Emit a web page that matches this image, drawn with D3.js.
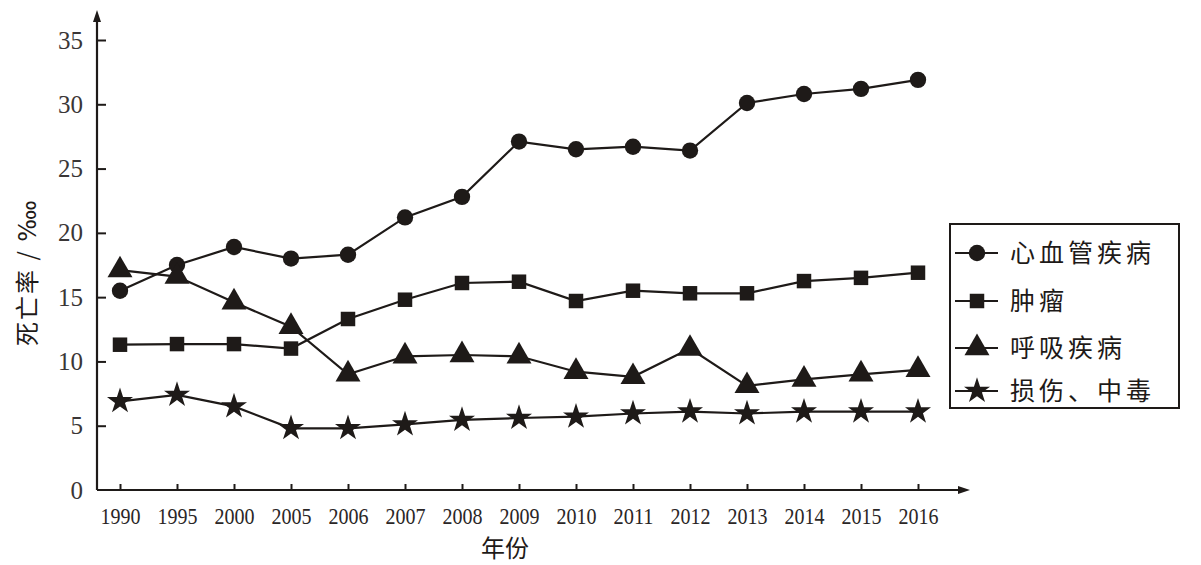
<!DOCTYPE html>
<html><head><meta charset="utf-8">
<script src="https://cdn.jsdelivr.net/npm/d3@7"></script>
<style>
body{margin:0;background:#fff;}
svg{display:block;}
</style></head>
<body>
<svg id="chart" width="1201" height="565"></svg>
<script>
const years = ["1990","1995","2000","2005","2006","2007","2008","2009","2010","2011","2012","2013","2014","2015","2016"];
const cardio = [15.5,17.5,18.9,18.0,18.3,21.2,22.8,27.1,26.5,26.7,26.4,30.1,30.8,31.2,31.9];
const tumor = [11.3,11.35,11.35,11.0,13.3,14.8,16.1,16.2,14.7,15.5,15.3,15.3,16.25,16.5,16.9];
const resp = [17.1,16.6,14.6,12.7,9.0,10.4,10.5,10.4,9.2,8.8,11.0,8.1,8.6,9.0,9.35];
const injury = [6.9,7.4,6.5,4.8,4.8,5.1,5.45,5.6,5.7,5.95,6.1,5.95,6.1,6.1,6.1];
const yTicks = [0,5,10,15,20,25,30,35];
const seriesNames = ["心血管疾病","肿瘤","呼吸疾病","损伤、中毒"];
const seriesSymbols = [d3.symbolCircle, d3.symbolSquare, d3.symbolTriangle, d3.symbolStar];
const seriesSizes = [210, 210, 270, 210];
const seriesData = [cardio, tumor, resp, injury];

const ink = "#1e1a18";
const svg = d3.select("#chart");
const x = d3.scalePoint().domain(years).range([120, 918]);
const y = d3.scaleLinear().domain([0, 35]).range([490, 40]);
const axisX0 = 97;

// Y axis
const yAxis = d3.axisLeft(y).tickValues(yTicks).tickSizeInner(-9).tickSizeOuter(0).tickPadding(14);
const gy = svg.append("g").attr("transform", `translate(${axisX0},0)`).call(yAxis);
gy.select(".domain").remove();
gy.selectAll(".tick line").attr("stroke", ink).attr("stroke-width", 2);
gy.selectAll(".tick text").attr("font-family", "'Liberation Serif', serif").attr("font-size", 25).attr("fill", "#3a3636");
gy.selectAll(".tick").filter(d => d === 0).select("line").remove();

// X axis
const xAxis = d3.axisBottom(x).tickSizeInner(-6).tickSizeOuter(0).tickPadding(17);
const gx = svg.append("g").attr("transform", `translate(0,${y(0)})`).call(xAxis);
gx.select(".domain").remove();
gx.selectAll(".tick line").attr("stroke", ink).attr("stroke-width", 2);
gx.selectAll(".tick text").attr("font-family", "'Liberation Serif', serif").attr("font-size", 24).attr("fill", "#2a2626")
  .attr("textLength", 40).attr("lengthAdjust", "spacingAndGlyphs");

// Axis lines with arrows
svg.append("line").attr("x1", axisX0).attr("y1", y(0)).attr("x2", axisX0).attr("y2", 16).attr("stroke", ink).attr("stroke-width", 2.2);
svg.append("path").attr("d", `M${axisX0},10 L${axisX0-4},22 L${axisX0+4},22 Z`).attr("fill", ink);
svg.append("line").attr("x1", axisX0).attr("y1", y(0)).attr("x2", 962).attr("y2", y(0)).attr("stroke", ink).attr("stroke-width", 2.2);
svg.append("path").attr("d", `M970,${y(0)} L958,${y(0)-4} L958,${y(0)+4} Z`).attr("fill", ink);

// Axis titles
svg.append("text").attr("x", 505).attr("y", 557).attr("text-anchor", "middle")
  .attr("font-family", "'Noto Sans CJK SC', sans-serif").attr("font-size", 24).attr("fill", ink).text("年份");
svg.append("text").attr("transform", "translate(36,272) rotate(-90)").attr("text-anchor", "middle")
  .attr("font-family", "'Noto Sans CJK SC', 'DejaVu Sans', sans-serif").attr("font-size", 24).attr("letter-spacing", 2).attr("fill", ink)
  .text("死亡率 / ‱");

// Lines and markers
const line = d3.line().x((d, i) => x(years[i])).y(d => y(d));
seriesData.forEach((vals, si) => {
  svg.append("path").datum(vals).attr("d", line).attr("fill", "none").attr("stroke", ink).attr("stroke-width", 2.2);
  const sym = d3.symbol().type(seriesSymbols[si]).size(seriesSizes[si]);
  svg.append("g").selectAll("path").data(vals).join("path")
    .attr("transform", (d, i) => `translate(${x(years[i])},${y(d)})`)
    .attr("d", sym).attr("fill", ink);
});

// Legend
const lg = svg.append("g");
lg.append("rect").attr("x", 950).attr("y", 224).attr("width", 229).attr("height", 184)
  .attr("fill", "#fff").attr("stroke", ink).attr("stroke-width", 2);
const legY = [253, 301, 348, 391];
seriesNames.forEach((name, si) => {
  const g = lg.append("g").attr("transform", `translate(0,${legY[si]})`);
  g.append("line").attr("x1", 955).attr("x2", 998).attr("y1", 0).attr("y2", 0).attr("stroke", ink).attr("stroke-width", 2.2);
  g.append("path").attr("transform", "translate(977,0)").attr("d", d3.symbol().type(seriesSymbols[si]).size(seriesSizes[si])()).attr("fill", ink);
  g.append("text").attr("x", 1010).attr("y", 9).attr("font-family", "'Noto Sans CJK SC', sans-serif")
    .attr("font-size", 25).attr("letter-spacing", 4).attr("fill", ink).text(name);
});
</script>
</body></html>
